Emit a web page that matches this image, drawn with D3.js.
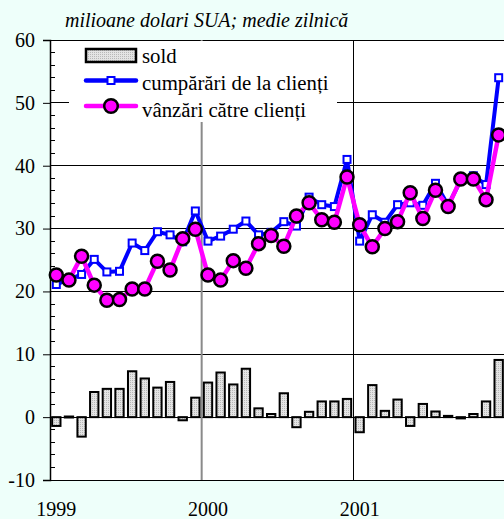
<!DOCTYPE html>
<html><head><meta charset="utf-8">
<script src="https://cdn.jsdelivr.net/npm/d3@7"></script>
<style>
html,body{margin:0;padding:0;background:#eefffa;}
svg{display:block;}
</style></head>
<body>
<svg id="chart" width="504" height="519" font-family="Liberation Serif"></svg>
<script>
const months = d3.range(36).map(i => `${1999 + Math.floor(i / 12)}-${String(i % 12 + 1).padStart(2, "0")}`);
const yearLabels = ["1999", "2000", "2001"];
const yTicks = [-10, 0, 10, 20, 30, 40, 50, 60];
const buy = [21.1, 21.9, 22.7, 25.1, 23.1, 23.2, 27.7, 26.5, 29.5, 29.0, 27.9, 32.8,
             28.0, 28.8, 29.9, 31.2, 29.0, 29.4, 31.1, 30.4, 35.0, 33.8, 33.5, 41.0,
             28.0, 32.2, 31.0, 33.8, 34.1, 33.7, 37.2, 33.7, 37.7, 38.4, 37.0, 54.0];
const sell = [22.6, 21.8, 25.6, 21.0, 18.6, 18.7, 20.4, 20.4, 24.8, 23.4, 28.4, 29.9,
              22.6, 21.8, 24.9, 23.7, 27.6, 28.9, 27.2, 32.0, 34.1, 31.4, 31.0, 38.2,
              30.6, 27.1, 30.0, 31.1, 35.7, 31.6, 36.1, 33.5, 37.9, 37.9, 34.6, 44.9];
const sold = [-1.4, 0.1, -3.1, 4.0, 4.5, 4.5, 7.3, 6.15, 4.7, 5.6, -0.5, 3.1,
              5.5, 7.1, 5.2, 7.7, 1.4, 0.5, 3.8, -1.6, 0.85, 2.5, 2.5, 2.9,
              -2.4, 5.1, 1.0, 2.8, -1.4, 2.1, 0.9, 0.2, -0.2, 0.5, 2.5, 9.1];
const legendLabels = ["sold", "cumpărări de la clienți", "vânzări către clienți"];
const subtitle = "milioane dolari SUA; medie zilnică";

const FONT = '"Liberation Serif"';
const svg = d3.select("#chart");
const L = 50, R = 505, T = 40, B = 480;
const x = d3.scaleBand().domain(months).range([L, R]).padding(0);
const y = d3.scaleLinear().domain([-10, 60]).range([B, T]);
const cx = m => x(m) + x.bandwidth() / 2;

// pattern for bars
const defs = svg.append("defs");
const pat = defs.append("pattern").attr("id", "dots").attr("patternUnits", "userSpaceOnUse")
  .attr("width", 2).attr("height", 2);
pat.append("rect").attr("width", 2).attr("height", 2).attr("fill", "#e4e4e4");
pat.append("rect").attr("width", 1).attr("height", 1).attr("fill", "#b8b8b8");

// plot background
svg.append("rect").attr("x", L).attr("y", T).attr("width", 504 - L).attr("height", B - T).attr("fill", "#fff");

// horizontal gridlines
svg.append("g").selectAll("line").data(yTicks).join("line")
  .attr("x1", L).attr("x2", 504).attr("y1", d => y(d)).attr("y2", d => y(d))
  .attr("stroke", "#000").attr("stroke-width", 1).attr("shape-rendering", "crispEdges");

// vertical year gridlines
svg.append("line").attr("x1", x(months[12])).attr("x2", x(months[12])).attr("y1", T).attr("y2", B)
  .attr("stroke", "#8a8a8a").attr("stroke-width", 2);
svg.append("line").attr("x1", x(months[24])).attr("x2", x(months[24])).attr("y1", T).attr("y2", B)
  .attr("stroke", "#000").attr("stroke-width", 1).attr("shape-rendering", "crispEdges");

// left axis
const yAxis = d3.axisLeft(y).tickValues(yTicks).tickFormat(d => String(d)).tickSize(7).tickPadding(8);
const ga = svg.append("g").attr("transform", `translate(${L},0)`).call(yAxis);
ga.attr("font-family", "Liberation Serif").attr("font-size", 20);
ga.select(".domain").attr("stroke", "#000").attr("stroke-width", 1.5);
ga.selectAll(".tick line").attr("stroke", "#000");
ga.selectAll(".tick text").attr("fill", "#000").style("font-family", FONT).style("font-size", "20px");
// minor ticks
const minor = d3.range(-10, 61, 2).filter(v => v % 10 !== 0);
svg.append("g").selectAll("line").data(minor).join("line")
  .attr("x1", L).attr("x2", L + 5).attr("y1", d => y(d)).attr("y2", d => y(d))
  .attr("stroke", "#000").attr("stroke-width", 1).attr("shape-rendering", "crispEdges");

// bars
const bw = x.bandwidth() * 0.66;
svg.append("g").selectAll("rect").data(sold).join("rect")
  .attr("x", (d, i) => cx(months[i]) - bw / 2)
  .attr("width", bw)
  .attr("y", d => y(Math.max(0, d)))
  .attr("height", d => Math.max(1, Math.abs(y(d) - y(0))))
  .attr("fill", "url(#dots)").attr("stroke", "#000").attr("stroke-width", 2);

// legend background
svg.append("rect").attr("x", 69).attr("y", 41).attr("width", 268).attr("height", 81).attr("fill", "#fff");

// lines
const lineGen = arr => d3.line().x((d, i) => cx(months[i])).y(d => y(d))(arr);
svg.append("path").attr("d", lineGen(buy)).attr("fill", "none").attr("stroke", "#0000ff").attr("stroke-width", 4)
  .attr("stroke-linejoin", "round");
svg.append("g").selectAll("rect").data(buy).join("rect")
  .attr("x", (d, i) => cx(months[i]) - 3.5).attr("y", d => y(d) - 3.5)
  .attr("width", 7).attr("height", 7).attr("fill", "#fff").attr("stroke", "#0000ff").attr("stroke-width", 2);
svg.append("path").attr("d", lineGen(sell)).attr("fill", "none").attr("stroke", "#ff00ff").attr("stroke-width", 4.5)
  .attr("stroke-linejoin", "round");
svg.append("g").selectAll("circle").data(sell).join("circle")
  .attr("cx", (d, i) => cx(months[i])).attr("cy", d => y(d)).attr("r", 6.5)
  .attr("fill", "#ff00ff").attr("stroke", "#000").attr("stroke-width", 2.5);

// year labels
svg.append("g").selectAll("text").data(yearLabels).join("text")
  .attr("x", (d, i) => cx(months[i * 12])).attr("y", 516).attr("text-anchor", "middle")
  .style("font-family", FONT).style("font-size", "20px").text(d => d);

// subtitle
svg.append("text").attr("x", 65).attr("y", 27)
  .style("font-family", FONT).style("font-size", "20px").style("font-style", "italic").text(subtitle);

// legend
const lg = svg.append("g");
lg.append("rect").attr("x", 86).attr("y", 49).attr("width", 50).attr("height", 13)
  .attr("fill", "url(#dots)").attr("stroke", "#000").attr("stroke-width", 2.5);
lg.append("line").attr("x1", 86).attr("x2", 136).attr("y1", 80.5).attr("y2", 80.5)
  .attr("stroke", "#0000ff").attr("stroke-width", 4.5).attr("stroke-linecap", "round");
lg.append("rect").attr("x", 107.5).attr("y", 77).attr("width", 7).attr("height", 7)
  .attr("fill", "#fff").attr("stroke", "#0000ff").attr("stroke-width", 2);
lg.append("line").attr("x1", 86).attr("x2", 136).attr("y1", 106).attr("y2", 106)
  .attr("stroke", "#ff00ff").attr("stroke-width", 4.5).attr("stroke-linecap", "round");
lg.append("circle").attr("cx", 111).attr("cy", 106).attr("r", 6.8)
  .attr("fill", "#ff00ff").attr("stroke", "#000").attr("stroke-width", 2.5);
lg.selectAll("text").data(legendLabels).join("text")
  .attr("x", 142).attr("y", (d, i) => [63, 89.5, 116.5][i])
  .style("font-family", FONT).style("font-size", "20.8px").text(d => d);
</script>
</body></html>
